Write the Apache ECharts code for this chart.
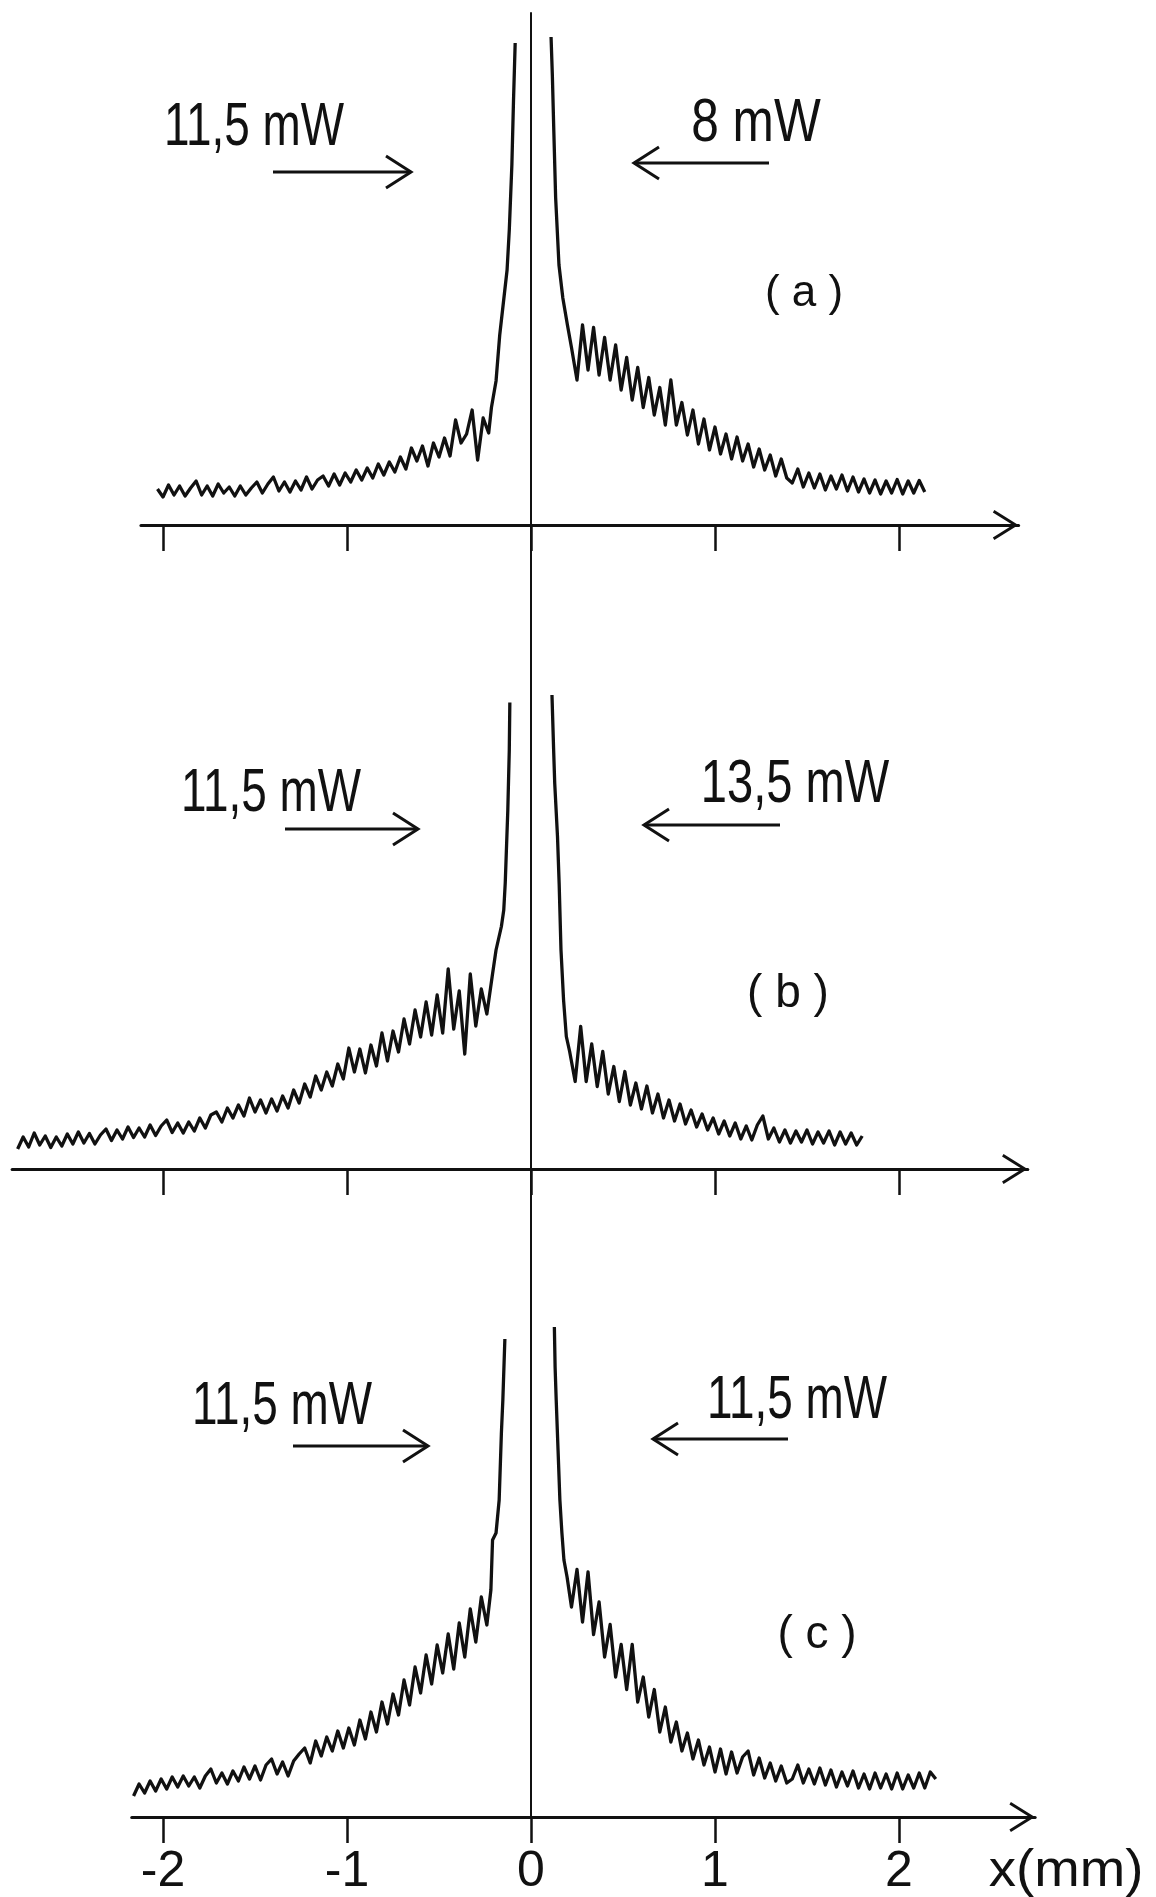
<!DOCTYPE html>
<html>
<head>
  <meta charset="utf-8">
  <title>Profils x (mm)</title>
  <script src="https://cdn.jsdelivr.net/npm/echarts@6.0.0/dist/echarts.min.js"></script>
</head>
<body style="margin:0;background:#fff;">
<div id="chart-container" style="width:1156px;height:1897px;"></div>
<script type="text/javascript">
  // x in mm (0 = the vertical line), y in arbitrary intensity units above each baseline
  var STEP = 0.03;
  var xTicks = [-2, -1, 0, 1, 2];

  // panel (a)
  var aLeftStart = -2.03;
  var aLeft = [7.2, 5.6, 8.0, 6.0, 7.8, 5.8, 7.4, 8.8, 6.0, 7.8,
    5.8, 8.2, 6.4, 7.6, 5.8, 7.8, 6.0, 7.4, 8.6, 6.4,
    8.2, 9.6, 6.8, 8.6, 6.6, 8.8, 7.0, 9.6, 7.2, 9.0,
    9.8, 7.8, 10.2, 8.0, 10.4, 8.6, 11.0, 9.0, 11.4, 9.4,
    12.2, 10.0, 12.6, 10.6, 13.6, 11.2, 15.4, 12.8, 15.8, 11.8,
    16.4, 13.6, 17.4, 13.8, 21.0, 16.4, 18.2, 23.0, 13.0, 21.4,
    18.4];
  var aLeftPeak = [[-0.215, 23.5], [-0.19, 28.8], [-0.17, 38], [-0.13, 51], [-0.118, 59], [-0.104, 72], [-0.095, 85], [-0.086, 96.4]];
  var aRightPeak = [[0.109, 97.6], [0.116, 90], [0.124, 78.8], [0.134, 65.4], [0.152, 52], [0.173, 45.4], [0.198, 40]];
  var aRightStart = 0.22;
  var aRight = [35.5, 29.0, 40.0, 31.0, 39.5, 30.0, 37.5, 29.0, 36.0, 27.0,
    33.5, 25.0, 31.5, 23.5, 29.5, 22.0, 27.5, 20.0, 29.0, 20.0,
    24.5, 18.0, 23.0, 16.2, 21.2, 15.0, 19.6, 14.2, 18.2, 13.2,
    17.6, 12.8, 16.2, 11.6, 15.2, 11.0, 14.0, 9.8, 13.2, 9.4,
    8.4, 11.2, 7.6, 10.4, 7.4, 10.2, 7.0, 9.8, 7.2, 10.0,
    6.8, 9.6, 6.6, 9.2, 6.4, 9.0, 6.2, 8.8, 6.4, 9.1,
    6.2, 8.8, 6.4, 8.9, 6.6];

  // panel (b)
  var bLeftStart = -2.79;
  var bLeft = [4.0, 6.4, 4.4, 7.2, 4.8, 6.6, 4.3, 6.4, 4.6, 7.0,
    5.0, 7.4, 5.2, 7.1, 5.0, 6.8, 8.0, 5.7, 7.8, 6.0,
    8.4, 6.3, 8.2, 6.4, 8.8, 6.7, 8.6, 9.8, 7.3, 9.2,
    7.2, 9.4, 7.6, 10.2, 8.2, 10.8, 11.4, 9.4, 12.2, 10.2,
    12.8, 10.6, 14.2, 11.4, 13.8, 11.2, 14.0, 11.6, 14.6, 12.2,
    15.8, 13.2, 17.0, 14.4, 18.6, 15.8, 19.4, 16.6, 21.0, 18.0,
    24.2, 19.4, 24.0, 19.2, 24.8, 20.6, 27.2, 21.6, 27.6, 23.4,
    30.0, 25.0, 31.8, 26.4, 33.4, 26.8, 34.8, 27.2, 40.0, 28.0,
    35.6, 23.0, 39.0, 28.6, 36.0, 31.0];
  var bLeftPeak = [[-0.211, 38.5], [-0.19, 43.8], [-0.161, 48.5], [-0.148, 51.8], [-0.14, 57.2], [-0.126, 71.8], [-0.118, 83.8], [-0.115, 93.3]];
  var bRightPeak = [[0.114, 94.8], [0.123, 83.8], [0.129, 77.1], [0.144, 66.5], [0.153, 57.1], [0.163, 43.8], [0.177, 33.8], [0.192, 26.5]];
  var bRightStart = 0.21;
  var bRight = [23.5, 17.5, 28.5, 17.5, 25.0, 16.5, 23.5, 15.0, 20.5, 13.5,
    19.5, 12.8, 17.2, 12.0, 16.6, 11.2, 15.0, 10.2, 13.8, 9.6,
    13.0, 9.0, 11.8, 8.4, 11.0, 7.8, 10.2, 7.0, 9.6, 6.6,
    9.2, 6.0, 8.6, 5.8, 8.8, 10.6, 6.0, 8.2, 5.4, 7.8,
    5.2, 7.6, 5.4, 7.8, 5.0, 7.4, 5.2, 7.6, 4.8, 7.4,
    5.0, 7.2, 4.8, 6.6];

  // panel (c)
  var cLeftStart = -2.16;
  var cLeft = [4.2, 6.6, 4.8, 7.2, 5.2, 7.6, 5.6, 8.0, 6.0, 8.2,
    6.2, 8.0, 5.8, 8.2, 9.6, 6.8, 8.8, 6.6, 9.2, 7.2,
    10.0, 7.6, 10.2, 7.4, 10.4, 11.6, 8.6, 11.0, 8.2, 11.2,
    12.6, 13.8, 10.8, 15.2, 12.2, 16.0, 13.2, 17.2, 13.8, 17.8,
    14.4, 19.4, 15.6, 21.0, 17.0, 23.0, 18.6, 24.6, 20.4, 27.4,
    22.4, 30.0, 24.8, 32.4, 26.6, 34.4, 28.8, 36.6, 29.6, 38.8,
    32.0, 41.6, 35.0, 44.0, 38.4];
  var cLeftPeak = [[-0.218, 45.4], [-0.209, 55.4], [-0.19, 56.8], [-0.173, 63.4], [-0.161, 76.7], [-0.153, 83.4], [-0.142, 95.6]];
  var cRightPeak = [[0.127, 98], [0.131, 90], [0.137, 83.4], [0.147, 73.4], [0.157, 63.4], [0.168, 56.8], [0.179, 51.4], [0.196, 48]];
  var cRightStart = 0.22;
  var cRight = [42.0, 49.5, 39.0, 49.0, 36.5, 43.0, 32.0, 38.5, 28.0, 34.5,
    25.5, 34.5, 23.0, 28.0, 20.0, 25.5, 17.0, 22.0, 15.0, 19.0,
    13.2, 16.8, 11.6, 15.4, 10.4, 14.0, 9.0, 13.6, 8.6, 13.0,
    8.8, 12.0, 13.2, 8.4, 11.8, 7.8, 10.8, 7.2, 10.2, 6.8,
    7.6, 10.4, 6.8, 9.6, 6.6, 9.8, 6.4, 9.4, 6.0, 9.0,
    6.2, 9.2, 5.8, 8.6, 5.6, 8.8, 5.8, 8.6, 5.6, 8.8,
    5.6, 8.4, 5.8, 8.8, 5.8, 9.0, 7.6];

  // layout (pixels): x = 0 at X0, PX px per mm, PY px per intensity unit
  var X0 = 531, PX = 184, PY = 5;
  var INK = '#111';
  var CHEVRON = 'path://M15,0 L30,24 L27.5,25.5 L15,5.5 L2.5,25.5 L0,24 Z';
  var FONT = '"Liberation Sans", Arial, sans-serif';

  var panels = [
    {top: 13, bottom: 525, xMin: -2.12, xMax: 2.65},
    {top: 525, bottom: 1169, xMin: -2.82, xMax: 2.70},
    {top: 1169, bottom: 1817, xMin: -2.17, xMax: 2.74}
  ];

  function tail(start, vals) {
    return vals.map(function (v, i) {
      return [+(start + i * STEP).toFixed(3), v];
    });
  }

  var traces = [
    [tail(aLeftStart, aLeft).concat(aLeftPeak), aRightPeak.concat(tail(aRightStart, aRight))],
    [tail(bLeftStart, bLeft).concat(bLeftPeak), bRightPeak.concat(tail(bRightStart, bRight))],
    [tail(cLeftStart, cLeft).concat(cLeftPeak), cRightPeak.concat(tail(cRightStart, cRight))]
  ];

  var grids = [], xAxes = [], yAxes = [], series = [];
  panels.forEach(function (p, i) {
    grids.push({
      left: X0 + p.xMin * PX,
      top: p.top,
      width: (p.xMax - p.xMin) * PX,
      height: p.bottom - p.top,
      containLabel: false,
      outerBoundsMode: 'none'
    });
    xAxes.push({
      gridIndex: i,
      type: 'value',
      min: p.xMin,
      max: p.xMax,
      axisLine: {
        onZero: false,
        symbol: ['none', CHEVRON],
        symbolSize: [30, 26],
        symbolOffset: [0, -13],
        lineStyle: {color: INK, width: 3}
      },
      axisTick: {show: true, customValues: xTicks, length: 26, lineStyle: {color: INK, width: 2.5}},
      axisLabel: {
        show: i === 2,
        customValues: xTicks,
        margin: 30,
        color: INK,
        fontSize: 50,
        fontFamily: FONT
      },
      splitLine: {show: false}
    });
    yAxes.push({
      gridIndex: i,
      type: 'value',
      min: 0,
      max: (p.bottom - p.top) / PY,
      axisLine: {show: true, onZero: true, lineStyle: {color: INK, width: 2}},
      axisTick: {show: false},
      axisLabel: {show: false},
      splitLine: {show: false}
    });
    traces[i].forEach(function (d) {
      series.push({
        type: 'line',
        xAxisIndex: i,
        yAxisIndex: i,
        data: d,
        showSymbol: false,
        symbol: 'none',
        lineStyle: {color: INK, width: 3.3, join: 'round'},
        z: 3
      });
    });
  });

  function text(str, x, y, size, sx) {
    return {
      type: 'text', x: x, y: y, scaleX: sx || 1,
      style: {text: str, fill: INK, font: 'normal ' + size + 'px ' + FONT,
        align: 'center', verticalAlign: 'middle', textAlign: 'center', textVerticalAlign: 'middle'}
    };
  }
  function arrow(x1, x2, y) {
    var d = x2 > x1 ? 1 : -1;
    return {
      type: 'group',
      children: [
        {type: 'line', shape: {x1: x1, y1: y, x2: x2, y2: y}, style: {stroke: INK, lineWidth: 3}},
        {type: 'polyline', shape: {points: [[x2 - d * 25, y - 16], [x2, y], [x2 - d * 25, y + 16]]},
          style: {stroke: INK, lineWidth: 3, fill: null}}
      ]
    };
  }

  var graphics = [
    text('11,5 mW', 254, 128, 62, 0.74), arrow(273, 411, 172),
    text('8 mW', 756, 124, 62, 0.8), arrow(769, 634, 163),
    text('( a )', 804, 294, 44),
    text('11,5 mW', 271, 794, 62, 0.74), arrow(285, 418, 829),
    text('13,5 mW', 795, 785, 62, 0.76), arrow(780, 644, 825),
    text('( b )', 788, 994, 46),
    text('11,5 mW', 282, 1407, 62, 0.74), arrow(293, 428, 1446),
    text('11,5 mW', 797, 1401, 62, 0.74), arrow(788, 653, 1439),
    text('( c )', 817, 1635, 46),
    text('x(mm)', 1066, 1872, 52, 1.05)
  ];

  var dom = document.getElementById('chart-container');
  var myChart = echarts.init(dom, null, {renderer: 'canvas'});
  myChart.setOption({
    animation: false,
    backgroundColor: '#fff',
    grid: grids,
    xAxis: xAxes,
    yAxis: yAxes,
    series: series,
    graphic: graphics
  });
  window.addEventListener('resize', myChart.resize);
</script>
</body>
</html>
